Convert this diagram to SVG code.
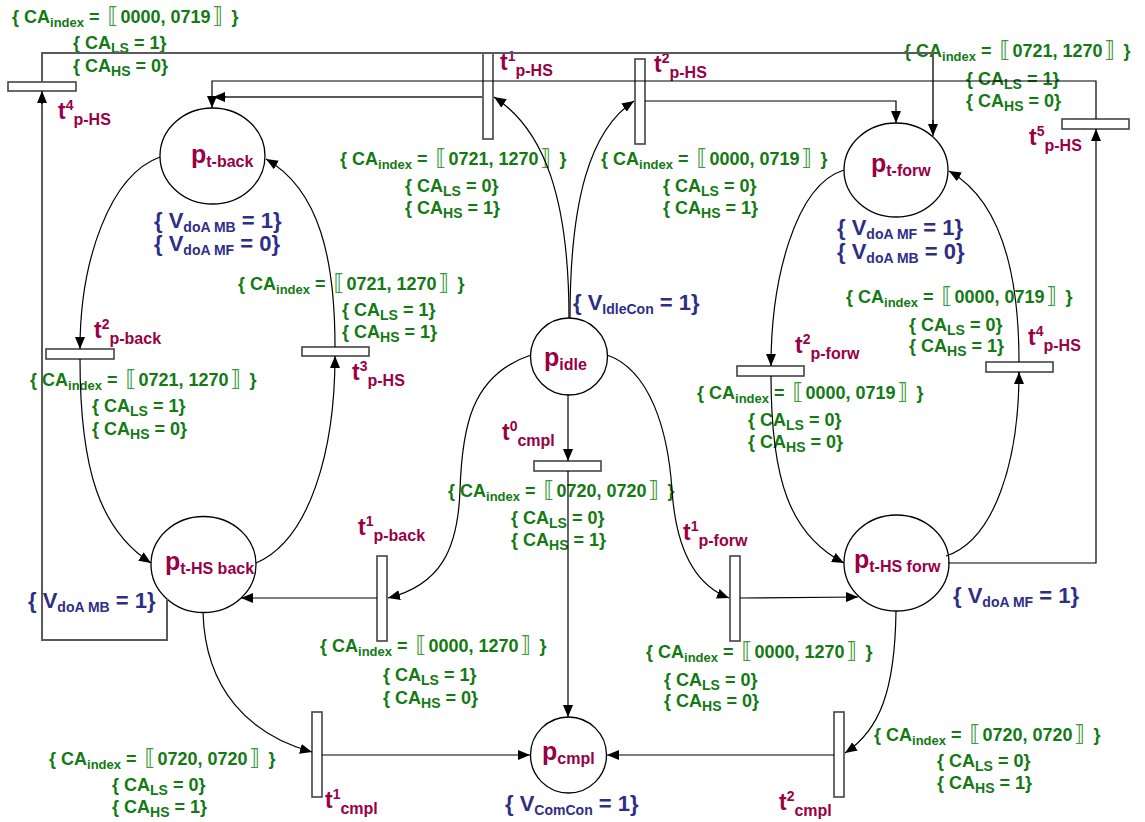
<svg xmlns="http://www.w3.org/2000/svg" width="1145" height="822" viewBox="0 0 1145 822">
<style>
text{font-family:"Liberation Sans",Arial,sans-serif;font-weight:bold}
.g{fill:#137a13;font-size:18px}
.gi{font-size:13px}
.gs{font-size:14px}
.br{font-family:"DejaVu Sans",sans-serif;font-weight:normal;font-size:22px;fill:#3a9a3a}
.m{fill:#990045;font-size:23px}
.mp{font-size:14px}
.ms{font-size:16px}
.pl{fill:#990045;font-size:25px}
.b{fill:#2e2e86;font-size:22px}
.bs{font-size:14px}
.pn{fill:#fff;stroke:#000;stroke-width:1.3}
.tr{fill:#fff;stroke:#444;stroke-width:1.6}
.c{fill:none;stroke:#000;stroke-width:1.2;marker-end:url(#ah)}
.c0{fill:none;stroke:#000;stroke-width:1.2}
.gr{fill:none;stroke:#5a5a5a;stroke-width:2}
</style>
<defs>
<marker id="ah" viewBox="0 0 12 10" refX="12" refY="5" markerWidth="12" markerHeight="10" orient="auto" markerUnits="userSpaceOnUse"><path d="M0,0 L12,5 L0,10 z" fill="#000"/></marker>
</defs>
<rect width="1145" height="822" fill="#fff"/>

<g id="p-t-back"><ellipse class="pn" cx="212.5" cy="156" rx="52.5" ry="48"/><text class="pl" x="191" y="163">p<tspan class="ms" dy="4">t-back</tspan></text>
<text class="b" x="154" y="228">{ V<tspan class="bs" dy="4">doA MB</tspan><tspan dy="-4"> = 1}</tspan></text>
<text class="b" x="154" y="251">{ V<tspan class="bs" dy="4">doA MF</tspan><tspan dy="-4"> = 0}</tspan></text></g>
<g id="p-t-forw"><ellipse class="pn" cx="896" cy="170" rx="52" ry="47"/><text class="pl" x="871" y="172">p<tspan class="ms" dy="4">t-forw</tspan></text>
<text class="b" x="837" y="235">{ V<tspan class="bs" dy="4">doA MF</tspan><tspan dy="-4"> = 1}</tspan></text>
<text class="b" x="837" y="259">{ V<tspan class="bs" dy="4">doA MB</tspan><tspan dy="-4"> = 0}</tspan></text></g>
<g id="p-idle"><circle class="pn" cx="569" cy="356.5" r="38.5"/><text class="pl" x="544" y="366">p<tspan class="ms" dy="4">idle</tspan></text>
<text class="b" x="573" y="310">{ V<tspan class="bs" dy="4">IdleCon</tspan><tspan dy="-4"> = 1}</tspan></text></g>
<g id="p-t-hs-back"><ellipse class="pn" cx="203.5" cy="564.5" rx="52.5" ry="48"/><text class="pl" x="165" y="570">p<tspan class="ms" dy="4">t-HS back</tspan></text>
<text class="b" x="28" y="608">{ V<tspan class="bs" dy="4">doA MB</tspan><tspan dy="-4"> = 1}</tspan></text></g>
<g id="p-t-hs-forw"><ellipse class="pn" cx="896.5" cy="563" rx="52.5" ry="48"/><text class="pl" x="854" y="568">p<tspan class="ms" dy="4">t-HS forw</tspan></text>
<text class="b" x="953" y="603">{ V<tspan class="bs" dy="4">doA MF</tspan><tspan dy="-4"> = 1}</tspan></text></g>
<g id="p-cmpl"><circle class="pn" cx="568.5" cy="755" r="38"/><text class="pl" x="542" y="760">p<tspan class="ms" dy="4">cmpl</tspan></text>
<text class="b" x="505" y="811">{ V<tspan class="bs" dy="4">ComCon</tspan><tspan dy="-4"> = 1}</tspan></text></g>

<g id="t4-p-hs-left"><rect class="tr" x="8" y="82" width="68" height="9"/><text class="m" x="58" y="119">t<tspan class="mp" dy="-9">4</tspan><tspan class="ms" dy="15">p-HS</tspan></text>
<text class="g" x="12" y="23">{ CA<tspan class="gi" dy="4">index</tspan><tspan dy="-4"> = </tspan><tspan class="br" dx="3">⟦</tspan><tspan dx="2">0000, 0719</tspan><tspan class="br" dx="2">⟧</tspan><tspan dx="3"> }</tspan></text>
<text class="g" x="73" y="49">{ CA<tspan class="gs" dy="4">LS</tspan><tspan dy="-4"> = 1}</tspan></text>
<text class="g" x="73" y="72">{ CA<tspan class="gs" dy="4">HS</tspan><tspan dy="-4"> = 0}</tspan></text></g>

<g id="t1-p-hs"><rect class="tr" x="483" y="53" width="10" height="86"/><text class="m" x="500" y="70">t<tspan class="mp" dy="-9">1</tspan><tspan class="ms" dy="15">p-HS</tspan></text>
<text class="g" x="340" y="165">{ CA<tspan class="gi" dy="4">index</tspan><tspan dy="-4"> = </tspan><tspan class="br" dx="3">⟦</tspan><tspan dx="2">0721, 1270</tspan><tspan class="br" dx="2">⟧</tspan><tspan dx="3"> }</tspan></text>
<text class="g" x="405" y="192">{ CA<tspan class="gs" dy="4">LS</tspan><tspan dy="-4"> = 0}</tspan></text>
<text class="g" x="405" y="214">{ CA<tspan class="gs" dy="4">HS</tspan><tspan dy="-4"> = 1}</tspan></text></g>

<g id="t2-p-hs"><rect class="tr" x="635" y="59" width="10" height="85"/><text class="m" x="654" y="72">t<tspan class="mp" dy="-9">2</tspan><tspan class="ms" dy="15">p-HS</tspan></text>
<text class="g" x="601" y="165">{ CA<tspan class="gi" dy="4">index</tspan><tspan dy="-4"> = </tspan><tspan class="br" dx="3">⟦</tspan><tspan dx="2">0000, 0719</tspan><tspan class="br" dx="2">⟧</tspan><tspan dx="3"> }</tspan></text>
<text class="g" x="663" y="192">{ CA<tspan class="gs" dy="4">LS</tspan><tspan dy="-4"> = 0}</tspan></text>
<text class="g" x="663" y="214">{ CA<tspan class="gs" dy="4">HS</tspan><tspan dy="-4"> = 1}</tspan></text></g>

<g id="t5-p-hs"><rect class="tr" x="1062" y="119" width="67" height="10"/><text class="m" x="1029" y="145">t<tspan class="mp" dy="-9">5</tspan><tspan class="ms" dy="15">p-HS</tspan></text>
<text class="g" x="904" y="57">{ CA<tspan class="gi" dy="4">index</tspan><tspan dy="-4"> = </tspan><tspan class="br" dx="3">⟦</tspan><tspan dx="2">0721, 1270</tspan><tspan class="br" dx="2">⟧</tspan><tspan dx="3"> }</tspan></text>
<text class="g" x="966" y="85">{ CA<tspan class="gs" dy="4">LS</tspan><tspan dy="-4"> = 1}</tspan></text>
<text class="g" x="966" y="107">{ CA<tspan class="gs" dy="4">HS</tspan><tspan dy="-4"> = 0}</tspan></text></g>

<g id="t2-p-back"><rect class="tr" x="46" y="349" width="68" height="10"/><text class="m" x="94" y="338">t<tspan class="mp" dy="-9">2</tspan><tspan class="ms" dy="15">p-back</tspan></text>
<text class="g" x="30" y="386">{ CA<tspan class="gi" dy="4">index</tspan><tspan dy="-4"> = </tspan><tspan class="br" dx="3">⟦</tspan><tspan dx="2">0721, 1270</tspan><tspan class="br" dx="2">⟧</tspan><tspan dx="3"> }</tspan></text>
<text class="g" x="92" y="412">{ CA<tspan class="gs" dy="4">LS</tspan><tspan dy="-4"> = 1}</tspan></text>
<text class="g" x="92" y="435">{ CA<tspan class="gs" dy="4">HS</tspan><tspan dy="-4"> = 0}</tspan></text></g>

<g id="t3-p-hs"><rect class="tr" x="302" y="347" width="67" height="9"/><text class="m" x="352" y="380">t<tspan class="mp" dy="-9">3</tspan><tspan class="ms" dy="15">p-HS</tspan></text>
<text class="g" x="238" y="290">{ CA<tspan class="gi" dy="4">index</tspan><tspan dy="-4"> = </tspan><tspan class="br" dx="3">⟦</tspan><tspan dx="2">0721, 1270</tspan><tspan class="br" dx="2">⟧</tspan><tspan dx="3"> }</tspan></text>
<text class="g" x="342" y="316">{ CA<tspan class="gs" dy="4">LS</tspan><tspan dy="-4"> = 1}</tspan></text>
<text class="g" x="342" y="338">{ CA<tspan class="gs" dy="4">HS</tspan><tspan dy="-4"> = 1}</tspan></text></g>

<g id="t2-p-forw"><rect class="tr" x="737" y="366" width="67" height="10"/><text class="m" x="795" y="353">t<tspan class="mp" dy="-9">2</tspan><tspan class="ms" dy="15">p-forw</tspan></text>
<text class="g" x="697" y="399">{ CA<tspan class="gi" dy="4">index</tspan><tspan dy="-4"> = </tspan><tspan class="br" dx="3">⟦</tspan><tspan dx="2">0000, 0719</tspan><tspan class="br" dx="2">⟧</tspan><tspan dx="3"> }</tspan></text>
<text class="g" x="748" y="426">{ CA<tspan class="gs" dy="4">LS</tspan><tspan dy="-4"> = 0}</tspan></text>
<text class="g" x="748" y="448">{ CA<tspan class="gs" dy="4">HS</tspan><tspan dy="-4"> = 0}</tspan></text></g>

<g id="t4-p-hs-right"><rect class="tr" x="986" y="362" width="67" height="10"/><text class="m" x="1028" y="345">t<tspan class="mp" dy="-9">4</tspan><tspan class="ms" dy="15">p-HS</tspan></text>
<text class="g" x="846" y="303">{ CA<tspan class="gi" dy="4">index</tspan><tspan dy="-4"> = </tspan><tspan class="br" dx="3">⟦</tspan><tspan dx="2">0000, 0719</tspan><tspan class="br" dx="2">⟧</tspan><tspan dx="3"> }</tspan></text>
<text class="g" x="909" y="331">{ CA<tspan class="gs" dy="4">LS</tspan><tspan dy="-4"> = 0}</tspan></text>
<text class="g" x="909" y="352">{ CA<tspan class="gs" dy="4">HS</tspan><tspan dy="-4"> = 1}</tspan></text></g>

<g id="t0-cmpl"><rect class="tr" x="534" y="461" width="67" height="10"/><text class="m" x="502" y="440">t<tspan class="mp" dy="-9">0</tspan><tspan class="ms" dy="15">cmpl</tspan></text>
<text class="g" x="448" y="497">{ CA<tspan class="gi" dy="4">index</tspan><tspan dy="-4"> = </tspan><tspan class="br" dx="3">⟦</tspan><tspan dx="2">0720, 0720</tspan><tspan class="br" dx="2">⟧</tspan><tspan dx="3"> }</tspan></text>
<text class="g" x="511" y="524">{ CA<tspan class="gs" dy="4">LS</tspan><tspan dy="-4"> = 0}</tspan></text>
<text class="g" x="511" y="546">{ CA<tspan class="gs" dy="4">HS</tspan><tspan dy="-4"> = 1}</tspan></text></g>

<g id="t1-p-back"><rect class="tr" x="377" y="556" width="10" height="85"/><text class="m" x="358" y="535">t<tspan class="mp" dy="-9">1</tspan><tspan class="ms" dy="15">p-back</tspan></text>
<text class="g" x="320" y="652">{ CA<tspan class="gi" dy="4">index</tspan><tspan dy="-4"> = </tspan><tspan class="br" dx="3">⟦</tspan><tspan dx="2">0000, 1270</tspan><tspan class="br" dx="2">⟧</tspan><tspan dx="3"> }</tspan></text>
<text class="g" x="383" y="681">{ CA<tspan class="gs" dy="4">LS</tspan><tspan dy="-4"> = 1}</tspan></text>
<text class="g" x="383" y="704">{ CA<tspan class="gs" dy="4">HS</tspan><tspan dy="-4"> = 0}</tspan></text></g>

<g id="t1-p-forw"><rect class="tr" x="730" y="556" width="10" height="85"/><text class="m" x="683" y="540">t<tspan class="mp" dy="-9">1</tspan><tspan class="ms" dy="15">p-forw</tspan></text>
<text class="g" x="646" y="658">{ CA<tspan class="gi" dy="4">index</tspan><tspan dy="-4"> = </tspan><tspan class="br" dx="3">⟦</tspan><tspan dx="2">0000, 1270</tspan><tspan class="br" dx="2">⟧</tspan><tspan dx="3"> }</tspan></text>
<text class="g" x="664" y="686">{ CA<tspan class="gs" dy="4">LS</tspan><tspan dy="-4"> = 0}</tspan></text>
<text class="g" x="664" y="707">{ CA<tspan class="gs" dy="4">HS</tspan><tspan dy="-4"> = 0}</tspan></text></g>

<g id="t1-cmpl"><rect class="tr" x="312" y="712" width="10" height="85"/><text class="m" x="325" y="808">t<tspan class="mp" dy="-9">1</tspan><tspan class="ms" dy="15">cmpl</tspan></text>
<text class="g" x="49" y="765">{ CA<tspan class="gi" dy="4">index</tspan><tspan dy="-4"> = </tspan><tspan class="br" dx="3">⟦</tspan><tspan dx="2">0720, 0720</tspan><tspan class="br" dx="2">⟧</tspan><tspan dx="3"> }</tspan></text>
<text class="g" x="112" y="791">{ CA<tspan class="gs" dy="4">LS</tspan><tspan dy="-4"> = 0}</tspan></text>
<text class="g" x="112" y="813">{ CA<tspan class="gs" dy="4">HS</tspan><tspan dy="-4"> = 1}</tspan></text></g>

<g id="t2-cmpl"><rect class="tr" x="834" y="712" width="10" height="85"/><text class="m" x="779" y="810">t<tspan class="mp" dy="-9">2</tspan><tspan class="ms" dy="15">cmpl</tspan></text>
<text class="g" x="874" y="741">{ CA<tspan class="gi" dy="4">index</tspan><tspan dy="-4"> = </tspan><tspan class="br" dx="3">⟦</tspan><tspan dx="2">0720, 0720</tspan><tspan class="br" dx="2">⟧</tspan><tspan dx="3"> }</tspan></text>
<text class="g" x="937" y="767">{ CA<tspan class="gs" dy="4">LS</tspan><tspan dy="-4"> = 0}</tspan></text>
<text class="g" x="937" y="789">{ CA<tspan class="gs" dy="4">HS</tspan><tspan dy="-4"> = 1}</tspan></text></g>

<g id="connectors">
<polyline class="gr" points="42,82 42,53 933,53 933,124"/>
<polyline class="c" points="933,120 933,136"/>
<polyline class="c" points="1096,119 1096,81 212,81 212,108"/>
<polyline class="gr" points="483,97 224,97"/>
<polyline class="c" points="226,97 213,97"/>
<polyline class="c" points="645,101 896,101 896,123"/>
<path class="c" d="M569,318 C569,200 545,130 494,97"/>
<path class="c" d="M570,318 C570,200 590,130 634,101"/>
<path class="c" d="M160,157 C110,175 80,260 80,349"/>
<path class="c" d="M80,359 C80,470 100,530 151,563"/>
<path class="c" d="M256,563 C310,540 335,450 335,356"/>
<path class="c" d="M335,347 C335,260 320,190 266,159"/>
<path class="c" d="M531,355 C470,375 462,430 460,490 C458,550 440,585 388,598"/>
<path class="c" d="M377,598 L241,598"/>
<path class="c" d="M607,355 C650,370 668,430 672,490 C676,550 695,585 729,598"/>
<path class="c" d="M740,598 L858,597"/>
<path class="c" d="M568,394 L568,461"/>
<path class="c" d="M568,471 L568,717"/>
<path class="c" d="M203,612 C205,690 250,735 312,752"/>
<path class="c" d="M322,755 L530,755"/>
<path class="c" d="M896,611 C895,690 880,730 845,753"/>
<path class="c" d="M834,755 L607,755"/>
<path class="c" d="M844,170 C795,185 771,280 771,366"/>
<path class="c" d="M771,376 C771,480 790,535 844,563"/>
<path class="c0" d="M946,556 C995,540 1019,460 1019,372"/>
<path class="c" d="M1019,384 L1019,372"/>
<path class="c" d="M1019,362 C1019,270 1000,200 949,171"/>
<polyline class="c" points="948,563 1096,563 1096,129"/>
<polyline class="gr" points="167,599 167,640 42,640 42,100"/>
<polyline class="c" points="42,104 42,91"/>
</g>
</svg>
